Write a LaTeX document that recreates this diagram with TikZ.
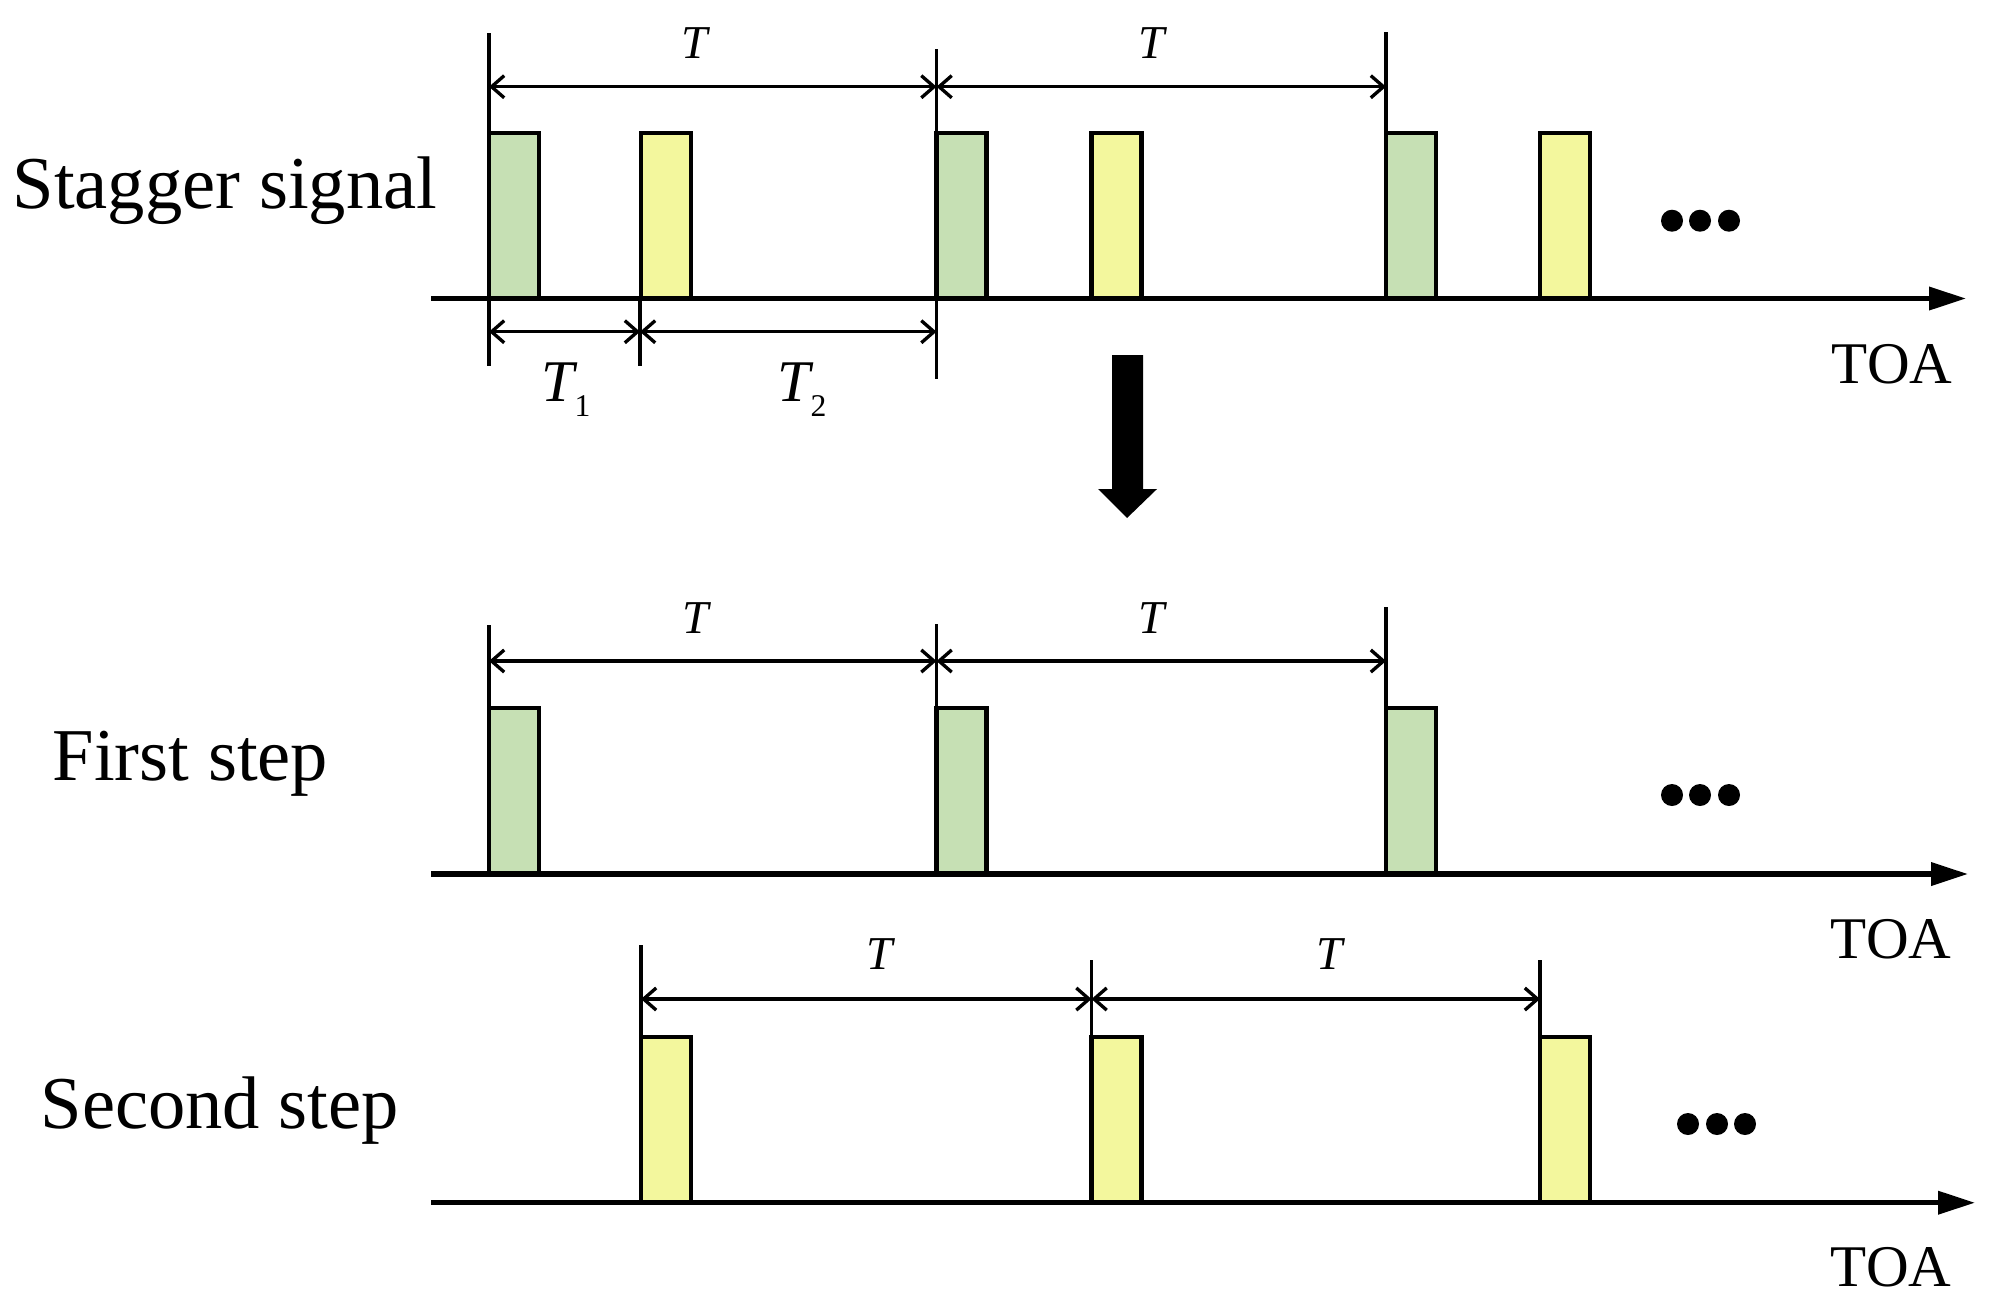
\documentclass[tikz,border=0pt]{standalone}
\usepackage{fontspec}
\setmainfont{Liberation Serif}
\usetikzlibrary{arrows.meta}
\definecolor{pgreen}{RGB}{198,224,180}
\definecolor{pyellow}{RGB}{243,247,157}
\begin{document}
\begin{tikzpicture}[x=0.01cm,y=-0.01cm,
  axis/.style={line width=1.45pt,-{Triangle[length=10.5pt,width=6.4pt]}},
  pulse/.style={draw=black,line width=1.25pt},
  gp/.style={pulse,fill=pgreen},
  yp/.style={pulse,fill=pyellow},
  ext/.style={line width=1.05pt},
  dimarrow/.style={line width=0.95pt,{Straight Barb[length=3.6pt,width=6.3pt]}-{Straight Barb[length=3.6pt,width=6.3pt]}},
  lbl/.style={font=\fontsize{21.2pt}{24pt}\selectfont,inner sep=0pt,anchor=base west},
  toa/.style={font=\fontsize{16.8pt}{20pt}\selectfont,inner sep=0pt,anchor=base east},
  tl/.style={font=\fontsize{13.4pt}{16pt}\selectfont\itshape,inner sep=0pt,anchor=base},
  dot/.style={circle,fill=black,inner sep=0pt,minimum size=0.22cm}]
\useasboundingbox (0,0) rectangle (1998,1311);

% ---------- Row 1: stagger signal ----------
\foreach \x in {489,936.5,1386} \draw[gp] (\x,133) rectangle ++(50,165.5);
\foreach \x in {641,1091.5,1540} \draw[yp] (\x,133) rectangle ++(50,165.5);
\coordinate (a1s) at (431,298.5);
\coordinate (a1e) at (1966,298.5);
\draw[axis] (a1s) -- (a1e);
% extension lines
\coordinate (e1a) at (489,33);   \coordinate (e1b) at (489,366);
\coordinate (e2a) at (936.5,49); \coordinate (e2b) at (936.5,379);
\coordinate (e3a) at (1386,32);  \coordinate (e3b) at (1386,133);
\coordinate (e4a) at (640,298.5);\coordinate (e4b) at (640,366);
\draw[ext] (e1a) -- (e1b);
\draw[ext] (e2a) -- (e2b);
\draw[ext] (e3a) -- (e3b);
\draw[ext] (e4a) -- (e4b);
% dimensions
\coordinate (d1a) at (489,86.7);
\coordinate (d1b) at (936.5,86.7);
\coordinate (d1c) at (1386,86.7);
\draw[dimarrow] (d1a) -- (d1b);
\draw[dimarrow] (d1b) -- (d1c);
\coordinate (d2a) at (489,331.7);
\coordinate (d2b) at (640,331.7);
\coordinate (d2c) at (936.5,331.7);
\draw[dimarrow] (d2a) -- (d2b);
\draw[dimarrow] (d2b) -- (d2c);
\node[tl] (t11) at (695,58) {T};
\node[tl] (t12) at (1152,58) {T};
\node[inner sep=0pt,anchor=base west] (tone) at (541,401.7)
  {{\fontsize{16.8pt}{20pt}\selectfont\itshape T}\raisebox{-4.27pt}{\fontsize{9pt}{11pt}\selectfont 1}};
\node[inner sep=0pt,anchor=base west] (ttwo) at (777,401.7)
  {{\fontsize{16.8pt}{20pt}\selectfont\itshape T}\raisebox{-4.27pt}{\fontsize{9pt}{11pt}\selectfont 2}};
\node[lbl] (stag) at (12,208) {Stagger signal};
\node[toa] (toa1) at (1953,383) {TOA};
\foreach \x/\n in {1672/a,1700/b,1729/c} \node[dot] (dot1\n) at (\x,220.7) {};

% ---------- big arrow ----------
\fill (1112,355) -- (1143,355) -- (1143,489) -- (1157,489) -- (1127,518) -- (1098,489) -- (1112,489) -- cycle;

% ---------- Row 2: first step ----------
\foreach \x in {489,936.5,1386} \draw[gp] (\x,708) rectangle ++(50,166);
\coordinate (a2s) at (431,874);
\coordinate (a2e) at (1968,874);
\draw[axis] (a2s) -- (a2e);
\coordinate (f1a) at (489,625);   \coordinate (f1b) at (489,708);
\coordinate (f2a) at (936.5,624); \coordinate (f2b) at (936.5,708);
\coordinate (f3a) at (1386,607);  \coordinate (f3b) at (1386,708);
\draw[ext] (f1a) -- (f1b);
\draw[ext] (f2a) -- (f2b);
\draw[ext] (f3a) -- (f3b);
\coordinate (g1) at (489,661);
\coordinate (g2) at (936.5,661);
\coordinate (g3) at (1386,661);
\draw[dimarrow] (g1) -- (g2);
\draw[dimarrow] (g2) -- (g3);
\node[tl] (t21) at (696,633) {T};
\node[tl] (t22) at (1152,633) {T};
\node[lbl] (first) at (52,780) {First step};
\node[toa] (toa2) at (1952,958) {TOA};
\foreach \x/\n in {1672/a,1700/b,1729/c} \node[dot] (dot2\n) at (\x,795) {};

% ---------- Row 3: second step ----------
\foreach \x in {641,1091.5,1540} \draw[yp] (\x,1037) rectangle ++(50,165.7);
\coordinate (a3s) at (431,1202.7);
\coordinate (a3e) at (1975,1202.7);
\draw[axis] (a3s) -- (a3e);
\coordinate (h1a) at (641,945);    \coordinate (h1b) at (641,1037);
\coordinate (h2a) at (1091.5,960); \coordinate (h2b) at (1091.5,1037);
\coordinate (h3a) at (1540,960);   \coordinate (h3b) at (1540,1037);
\draw[ext] (h1a) -- (h1b);
\draw[ext] (h2a) -- (h2b);
\draw[ext] (h3a) -- (h3b);
\coordinate (k1) at (641,999);
\coordinate (k2) at (1091.5,999);
\coordinate (k3) at (1540,999);
\draw[dimarrow] (k1) -- (k2);
\draw[dimarrow] (k2) -- (k3);
\node[tl] (t31) at (880,969) {T};
\node[tl] (t32) at (1330,969) {T};
\node[lbl] (second) at (40,1128) {Second step};
\node[toa] (toa3) at (1952,1286) {TOA};
\foreach \x/\n in {1688/a,1717/b,1745/c} \node[dot] (dot3\n) at (\x,1124) {};
\end{tikzpicture}
\end{document}
